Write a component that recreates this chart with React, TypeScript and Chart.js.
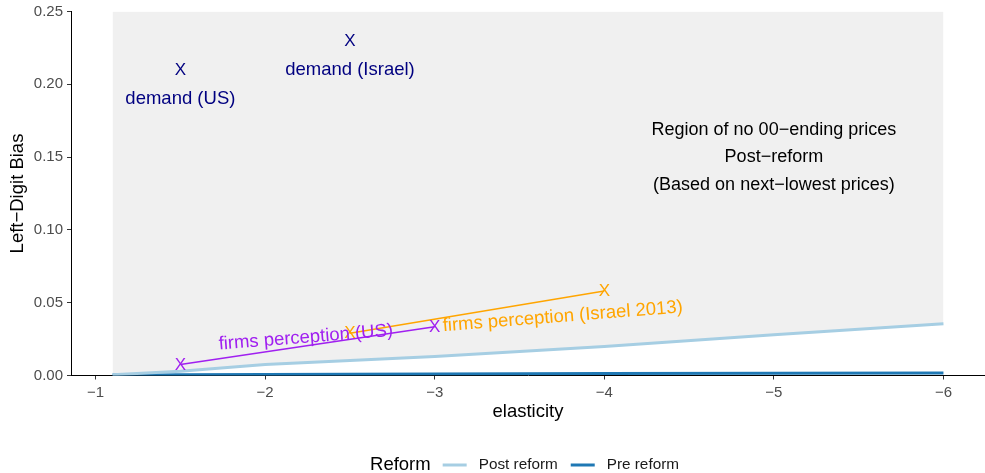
import React, { useEffect, useRef } from "react";
import { Chart, registerables } from "chart.js";

Chart.register(...registerables);

const FONT = '"Liberation Sans", Arial, Helvetica, sans-serif';

// Reform curves: left-digit bias threshold by elasticity
const elasticity = [-1.1, -1.5, -2, -3, -4, -5, -6];
const postReform = [0.0005, 0.003, 0.0075, 0.013, 0.02, 0.028, 0.0355];
const preReform = [0.0003, 0.0005, 0.0007, 0.001, 0.0013, 0.0016, 0.0018];

// Demand-side estimates
const demandElasticity = [-1.5, -2.5];
const demandBias = [0.21, 0.23];
const demandLabels = ["demand (US)", "demand (Israel)"];
const demandLabelBias = [0.19, 0.21];

// Firms' perceived bias
const firmsUSElasticity = [-1.5, -3];
const firmsUSBias = [0.0075, 0.0335];
const firmsILElasticity = [-2.5, -4];
const firmsILBias = [0.029, 0.058];

const xTicks = [-1, -2, -3, -4, -5, -6];
const yTicks = [0, 0.05, 0.1, 0.15, 0.2, 0.25];

const regionNote = ["Region of no 00\u2212ending prices", "Post\u2212reform", "(Based on next\u2212lowest prices)"];

const NAVY = "#000080";
const PURPLE = "#A020F0";
const ORANGE = "#FFA500";
const LIGHT_BLUE = "#a6cee3";
const DARK_BLUE = "#1f78b4";

const minusFmt = (v: number, digits: number) => {
  const s = Math.abs(v).toFixed(digits);
  return v < 0 ? "\u2212" + s : s;
};

const pts = (xs: number[], ys: number[]) => xs.map((x, i) => ({ x, y: ys[i] }));

// Draws "X" glyphs on flagged datasets, the text notes, and the bottom legend
const overlayPlugin = {
  id: "overlay",
  afterDatasetsDraw(chart: any) {
    const { ctx, scales } = chart;
    const xs = scales.x;
    const ys = scales.y;
    ctx.save();
    ctx.textAlign = "center";
    ctx.textBaseline = "middle";

    chart.data.datasets.forEach((ds: any, i: number) => {
      if (!ds.xGlyph) return;
      const meta = chart.getDatasetMeta(i);
      ctx.fillStyle = ds.borderColor;
      ctx.font = `17px ${FONT}`;
      meta.data.forEach((el: any) => {
        ctx.fillText("X", el.x, el.y + 0.5);
      });
    });

    // demand labels
    ctx.fillStyle = NAVY;
    ctx.font = `18.5px ${FONT}`;
    demandLabels.forEach((t, i) => {
      ctx.fillText(t, xs.getPixelForValue(demandElasticity[i]), ys.getPixelForValue(demandLabelBias[i]));
    });

    // rotated firm labels
    const rotated = (t: string, ex: number, b: number, color: string) => {
      ctx.save();
      ctx.translate(xs.getPixelForValue(ex), ys.getPixelForValue(b));
      ctx.rotate((-4.5 * Math.PI) / 180);
      ctx.fillStyle = color;
      ctx.fillText(t, 0, 0);
      ctx.restore();
    };
    rotated("firms perception (US)", -2.24, 0.026, PURPLE);
    rotated("firms perception (Israel 2013)", -3.755, 0.0404, ORANGE);

    // region note
    ctx.fillStyle = "#000000";
    ctx.font = `18px ${FONT}`;
    const cx = xs.getPixelForValue(-5);
    const cy = ys.getPixelForValue(0.15);
    regionNote.forEach((t, i) => {
      ctx.fillText(t, cx, cy + (i - 1) * 27.5);
    });
    ctx.restore();
  },
  afterDraw(chart: any) {
    const { ctx, chartArea } = chart;
    ctx.save();
    ctx.textBaseline = "middle";
    ctx.textAlign = "left";
    const titleFont = `18.5px ${FONT}`;
    const itemFont = `15.3px ${FONT}`;
    ctx.font = titleFont;
    const wTitle = ctx.measureText("Reform").width;
    ctx.font = itemFont;
    const items = [
      { label: "Post reform", color: LIGHT_BLUE },
      { label: "Pre reform", color: DARK_BLUE },
    ];
    const widths = items.map((it) => ctx.measureText(it.label).width);
    const keyW = 24;
    const gap = 12;
    const total = wTitle + items.reduce((s, _, i) => s + gap + keyW + gap + widths[i], 0) + gap;
    let x = (chartArea.left + chartArea.right) / 2 - total / 2 + 2;
    const y = 465;
    ctx.fillStyle = "#000000";
    ctx.font = titleFont;
    ctx.fillText("Reform", x, y);
    x += wTitle + gap;
    items.forEach((it, i) => {
      ctx.strokeStyle = it.color;
      ctx.lineWidth = 3;
      ctx.beginPath();
      ctx.moveTo(x, y);
      ctx.lineTo(x + keyW, y);
      ctx.stroke();
      x += keyW + gap;
      ctx.fillStyle = "#1a1a1a";
      ctx.font = itemFont;
      ctx.fillText(it.label, x, y);
      x += widths[i] + gap + 1;
    });
    ctx.restore();
  },
};

export default function App() {
  const ref = useRef<HTMLCanvasElement | null>(null);

  useEffect(() => {
    if (!ref.current) return;
    const chart = new Chart(ref.current, {
      type: "scatter",
      data: {
        datasets: [
          {
            label: "shade",
            data: pts(elasticity, postReform),
            showLine: true,
            fill: "end",
            backgroundColor: "#f0f0f0",
            borderWidth: 0,
            borderColor: "rgba(0,0,0,0)",
            pointRadius: 0,
            order: 10,
          } as any,
          {
            label: "Pre reform",
            data: pts(elasticity, preReform),
            showLine: true,
            borderColor: DARK_BLUE,
            borderWidth: 3,
            pointRadius: 0,
            order: 5,
          },
          {
            label: "Post reform",
            data: pts(elasticity, postReform),
            showLine: true,
            borderColor: LIGHT_BLUE,
            borderWidth: 3,
            pointRadius: 0,
            order: 4,
          },
          {
            label: "firms perception (US)",
            data: pts(firmsUSElasticity, firmsUSBias),
            showLine: true,
            borderColor: PURPLE,
            borderWidth: 1.5,
            pointRadius: 0,
            xGlyph: true,
            order: 2,
          } as any,
          {
            label: "firms perception (Israel 2013)",
            data: pts(firmsILElasticity, firmsILBias),
            showLine: true,
            borderColor: ORANGE,
            borderWidth: 1.5,
            pointRadius: 0,
            xGlyph: true,
            order: 3,
          } as any,
          {
            label: "demand",
            data: pts(demandElasticity, demandBias),
            showLine: false,
            borderColor: NAVY,
            pointRadius: 0,
            xGlyph: true,
            order: 1,
          } as any,
        ],
      },
      options: {
        responsive: false,
        animation: false,
        layout: { padding: { top: 11, left: 0, right: 0, bottom: 0 } },
        plugins: {
          legend: { display: false },
          tooltip: { enabled: false },
        },
        scales: {
          x: {
            type: "linear",
            reverse: true,
            min: -6.245,
            max: -0.855,
            afterFit: (s: any) => {
              s.height = 97.5;
            },
            afterBuildTicks: (s: any) => {
              s.ticks = xTicks.map((v) => ({ value: v }));
            },
            ticks: {
              callback: (v: any) => minusFmt(Number(v), 0),
              color: "#4d4d4d",
              font: { size: 15, family: FONT },
              padding: 4,
              maxRotation: 0,
              autoSkip: false,
            },
            grid: { drawOnChartArea: false, drawTicks: true, tickLength: 4, color: "#333333" },
            border: { display: true, color: "#000000", width: 1 },
            title: {
              display: true,
              text: "elasticity",
              color: "#000000",
              font: { size: 18.5, family: FONT },
              padding: { top: 0, bottom: 50 },
            },
          },
          y: {
            type: "linear",
            min: 0,
            max: 0.25,
            afterFit: (s: any) => {
              s.width = 71;
            },
            afterBuildTicks: (s: any) => {
              s.ticks = yTicks.map((v) => ({ value: v }));
            },
            ticks: {
              callback: (v: any) => minusFmt(Number(v), 2),
              color: "#4d4d4d",
              font: { size: 15, family: FONT, lineHeight: 1 },
              padding: 4,
              autoSkip: false,
            },
            grid: { drawOnChartArea: false, drawTicks: true, tickLength: 4, color: "#333333" },
            border: { display: true, color: "#000000", width: 1 },
            title: {
              display: true,
              text: "Left\u2212Digit Bias",
              color: "#000000",
              font: { size: 18.5, family: FONT },
              padding: { top: 7, bottom: 0 },
            },
          },
        },
      } as any,
      plugins: [overlayPlugin],
    });
    return () => chart.destroy();
  }, []);

  return (
    <div style={{ position: "absolute", left: 0, top: 0, width: 985, height: 473, background: "#ffffff" }}>
      <canvas ref={ref} width={985} height={473} style={{ display: "block" }} />
    </div>
  );
}
